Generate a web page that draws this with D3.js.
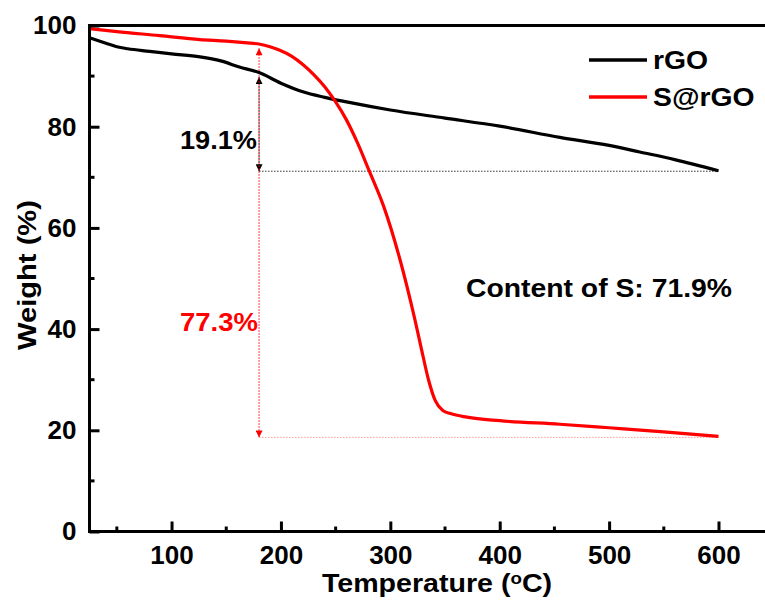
<!DOCTYPE html>
<html>
<head>
<meta charset="utf-8">
<script src="https://cdn.jsdelivr.net/npm/d3@7"></script>
<style>
  body { margin: 0; background: #fff; }
  text { font-family: "Liberation Sans", Arial, sans-serif; font-weight: bold; }
</style>
</head>
<body>
<div id="chart"></div>
<script>
// TGA data
var tempRGO = [25, 40, 50, 60, 80, 100, 126, 145, 162, 180, 200, 220, 240, 260, 300, 350, 400, 455, 500, 528, 560, 600];
var weightRGO = [97.6, 96.5, 95.8, 95.4, 94.9, 94.4, 93.8, 93.0, 91.8, 90.7, 88.6, 86.9, 85.8, 84.9, 83.3, 81.7, 80.1, 77.9, 76.3, 75.0, 73.5, 71.3];

var tempS = [25, 50, 89, 126, 150, 172, 181, 190, 199, 210, 220, 230, 240, 250, 260, 270, 281, 294, 309, 322, 328, 335, 341, 348, 355, 370, 400, 455, 500, 550, 600];
var weightS = [99.4, 98.8, 98.0, 97.2, 96.9, 96.5, 96.3, 95.8, 95.1, 93.9, 92.3, 90.3, 87.9, 84.9, 81.3, 76.8, 71.1, 64.2, 53.6, 42.3, 36.5, 29.9, 25.9, 23.9, 23.3, 22.6, 21.9, 21.2, 20.5, 19.7, 18.8];

var seriesNames = ["rGO", "S@rGO"];
var seriesColors = ["#000000", "#ff0000"];

var xMajor = [100, 200, 300, 400, 500, 600];
var xMinor = [50, 150, 250, 350, 450, 550];
var yMajor = [0, 20, 40, 60, 80, 100];
var yMinor = [10, 30, 50, 70, 90];

// annotation values
var markTemp = 180;
var rgoTop = 89.8, rgoBottom = 71.2;
var sTop = 95.5, sBottom = 18.6;

var width = 765, height = 601;
var margin = {left: 89.5, right: 0, top: 25.5, bottom: 69.5};

var svg = d3.select("#chart").append("svg")
    .attr("width", width)
    .attr("height", height);

var x = d3.scaleLinear().domain([25, 600]).range([margin.left, 718.5]);
var y = d3.scaleLinear().domain([0, 100]).range([height - margin.bottom, margin.top]);

// markers for arrows
var defs = svg.append("defs");
function arrowMarker(id, color) {
    defs.append("marker")
        .attr("id", id)
        .attr("viewBox", "0 0 10 10")
        .attr("refX", 10).attr("refY", 5)
        .attr("markerWidth", 11).attr("markerHeight", 7)
        .attr("markerUnits", "userSpaceOnUse")
        .attr("orient", "auto-start-reverse")
        .append("path")
        .attr("d", "M0,0L10,5L0,10z")
        .attr("fill", color);
}
arrowMarker("arrBlack", "#000");
arrowMarker("arrRed", "#ff0000");

// dotted guide lines
svg.append("line")
    .attr("x1", x(markTemp)).attr("x2", x(600))
    .attr("y1", y(rgoBottom)).attr("y2", y(rgoBottom))
    .attr("stroke", "#333").attr("stroke-width", 1)
    .attr("stroke-dasharray", "1.5,1.5");
svg.append("line")
    .attr("x1", x(markTemp)).attr("x2", x(600))
    .attr("y1", y(sBottom)).attr("y2", y(sBottom))
    .attr("stroke", "#ff9a9a").attr("stroke-width", 1)
    .attr("stroke-dasharray", "1.5,1.5");

// black double arrow (rGO loss)
svg.append("line")
    .attr("x1", x(markTemp)).attr("x2", x(markTemp))
    .attr("y1", y(rgoTop)).attr("y2", y(rgoBottom))
    .attr("stroke", "#000").attr("stroke-width", 1)
    .attr("stroke-dasharray", "1.5,1.5")
    .attr("marker-start", "url(#arrBlack)")
    .attr("marker-end", "url(#arrBlack)");

// red double arrow (S@rGO loss)
svg.append("line")
    .attr("x1", x(markTemp)).attr("x2", x(markTemp))
    .attr("y1", y(sTop)).attr("y2", y(sBottom))
    .attr("stroke", "#ff0000").attr("stroke-width", 1)
    .attr("stroke-dasharray", "1.5,1.5")
    .attr("marker-start", "url(#arrRed)")
    .attr("marker-end", "url(#arrRed)");

// curves
var line = d3.line()
    .x(function(d) { return x(d[0]); })
    .y(function(d) { return y(d[1]); })
    .curve(d3.curveMonotoneX);

var curves = [d3.zip(tempRGO, weightRGO), d3.zip(tempS, weightS)];
curves.forEach(function(pts, i) {
    svg.append("path")
        .datum(pts)
        .attr("d", line)
        .attr("fill", "none")
        .attr("stroke", seriesColors[i])
        .attr("stroke-width", 3.2)
        .attr("stroke-linejoin", "round");
});

// axes - ticks point inward
var xAxis = svg.append("g")
    .attr("transform", "translate(0," + y(0) + ")")
    .call(d3.axisBottom(x).tickValues(xMajor).tickSize(-10).tickPadding(14).tickSizeOuter(0));
xAxis.selectAll(".tick line").attr("stroke-width", 3);
xAxis.selectAll(".tick text").attr("font-size", 26).attr("fill", "#000")
    .attr("font-family", "Liberation Sans, Arial, sans-serif").attr("font-weight", "bold");
xAxis.select(".domain").remove();

svg.append("g").selectAll("line")
    .data(xMinor).enter().append("line")
    .attr("x1", function(d) { return x(d); }).attr("x2", function(d) { return x(d); })
    .attr("y1", y(0)).attr("y2", y(0) - 5)
    .attr("stroke", "#000").attr("stroke-width", 3);

var yAxis = svg.append("g")
    .attr("transform", "translate(" + margin.left + ",0)")
    .call(d3.axisLeft(y).tickValues(yMajor).tickSize(-10).tickPadding(13).tickSizeOuter(0));
yAxis.selectAll(".tick line").attr("stroke-width", 3);
yAxis.selectAll(".tick text").attr("font-size", 26).attr("fill", "#000")
    .attr("font-family", "Liberation Sans, Arial, sans-serif").attr("font-weight", "bold");
yAxis.select(".domain").remove();

svg.append("g").selectAll("line")
    .data(yMinor).enter().append("line")
    .attr("x1", margin.left).attr("x2", margin.left + 5)
    .attr("y1", function(d) { return y(d); }).attr("y2", function(d) { return y(d); })
    .attr("stroke", "#000").attr("stroke-width", 3);

// frame: left, bottom, top
svg.append("path")
    .attr("d", "M" + width + "," + y(100) + "H" + margin.left + "V" + y(0) + "H" + width)
    .attr("fill", "none").attr("stroke", "#000").attr("stroke-width", 3);

// axis titles (the original font runs a bit wider, hence the scale)
var xt = svg.append("text")
    .attr("transform", "translate(437,592) scale(1.1,1)")
    .attr("text-anchor", "middle")
    .attr("font-size", 26);
xt.append("tspan").text("Temperature (");
xt.append("tspan").attr("font-size", 17).attr("dy", -8).text("o");
xt.append("tspan").attr("dy", 8).text("C)");

svg.append("text")
    .attr("transform", "translate(36,275) rotate(-90) scale(1.12,1)")
    .attr("text-anchor", "middle")
    .attr("font-size", 26)
    .text("Weight (%)");

// legend
seriesNames.forEach(function(name, i) {
    var ly = 60 + i * 37;
    svg.append("line")
        .attr("x1", 589).attr("x2", 647)
        .attr("y1", ly).attr("y2", ly)
        .attr("stroke", seriesColors[i]).attr("stroke-width", 3.5);
    svg.append("text")
        .attr("transform", "translate(653," + (ly + 9) + ") scale(1.09,1)")
        .attr("font-size", 26)
        .text(name);
});

// labels
function label(px, py, txt, color, len) {
    svg.append("text").attr("x", px).attr("y", py)
        .attr("font-size", 26).attr("fill", color)
        .attr("textLength", len).attr("lengthAdjust", "spacingAndGlyphs")
        .text(txt);
}
label(180, 149, "19.1%", "#000", 77);
label(180, 331, "77.3%", "#ff0000", 78);
label(466, 297, "Content of S: 71.9%", "#000", 266);
</script>
</body>
</html>
